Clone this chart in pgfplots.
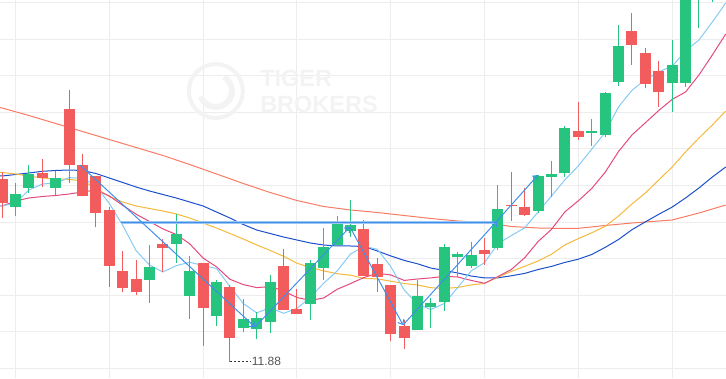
\documentclass[border=0pt]{standalone}
\usepackage{pgfplots}
\pgfplotsset{compat=1.18}
\usepackage{pgfplotstable}
\usepackage{fontspec}
\setmainfont{Liberation Sans}
\usetikzlibrary{arrows.meta}
\definecolor{cgreen}{HTML}{26C47E}
\definecolor{cred}{HTML}{F25C5C}
\definecolor{cma5}{HTML}{86CBF5}
\definecolor{cma10}{HTML}{E5497E}
\definecolor{cma20}{HTML}{F5B93B}
\definecolor{cma30}{HTML}{1B4FCB}
\definecolor{cma120}{HTML}{F97B64}
\definecolor{czig}{HTML}{3F8FEA}
\definecolor{chor}{HTML}{9CC6F4}
\definecolor{cgrid}{HTML}{EDEDED}
\definecolor{cwm}{HTML}{F3F3F3}
\definecolor{clab}{HTML}{555555}

% green (up) candles: k open high low close
\pgfplotstableread{
k o h l c
1 13.433 13.667 13.34 13.56
2 13.623 13.85 13.567 13.76
4 13.623 13.793 13.55 13.72
11 12.70 13.05 12.473 12.83
13 13.06 13.36 12.873 13.16
14 12.543 12.94 12.31 12.79
16 12.343 12.70 12.243 12.68
18 12.223 12.51 12.177 12.31
19 12.21 12.38 12.107 12.323
20 12.28 12.75 12.173 12.68
23 12.463 12.90 12.30 12.87
24 12.82 13.217 12.70 13.03
25 13.05 13.34 13.05 13.29
26 13.193 13.50 13.133 13.25
31 12.203 12.70 12.203 12.54
32 12.433 12.517 12.223 12.47
33 12.483 13.057 12.393 13.03
34 12.933 12.98 12.733 12.96
35 12.84 13.08 12.82 12.95
37 13.02 13.65 13.00 13.41
40 13.39 13.75 13.367 13.74
41 13.733 13.89 13.533 13.76
42 13.77 14.24 13.733 14.22
44 14.17 14.31 14.043 14.19
45 14.15 14.58 14.133 14.57
46 14.683 15.25 14.643 15.04
50 14.673 15.10 14.383 14.85
51 14.673 15.95 14.633 15.80
52 15.70 16.10 15.223 15.95
53 15.90 16.20 15.483 16.10
}\up

% red (down) candles: k open high low close
\pgfplotstableread{
k o h l c
0 13.71 13.783 13.317 13.473
3 13.767 13.91 13.633 13.723
5 14.41 14.60 13.673 13.853
6 13.85 13.96 13.54 13.543
7 13.74 13.74 13.227 13.373
8 13.40 13.433 12.633 12.843
9 12.79 12.99 12.583 12.623
10 12.71 12.90 12.55 12.583
12 13.06 13.107 12.783 13.023
15 12.87 12.87 12.043 12.42
17 12.63 12.65 11.88 12.123
21 12.84 13.01 12.40 12.40
22 12.41 12.61 12.36 12.36
27 13.21 13.30 12.74 12.74
28 12.86 12.92 12.583 12.73
29 12.65 12.65 12.093 12.163
30 12.24 12.30 12.013 12.123
36 13.00 13.12 12.85 12.96
38 13.45 13.78 13.29 13.44
39 13.43 13.62 13.34 13.35
43 14.19 14.48 14.103 14.133
47 15.19 15.37 14.853 15.053
48 14.97 15.02 14.623 14.663
49 14.79 14.89 14.433 14.583
}\down

% moving averages
\pgfplotstableread{
k ma5 ma10 ma20 ma30
-0.2 13.44 13.44 13.777 13.742
0 13.44 13.44 13.775 13.74
1 13.47 13.49 13.76 13.755
2 13.60 13.52 13.74 13.77
3 13.66 13.535 13.72 13.787
4 13.67 13.545 13.71 13.795
5 13.723 13.56 13.707 13.80
6 13.72 13.58 13.69 13.795
7 13.642 13.60 13.62 13.765
8 13.466 13.54 13.535 13.72
9 13.247 13.447 13.48 13.675
10 12.993 13.358 13.44 13.63
11 12.85 13.285 13.415 13.59
12 12.78 13.211 13.39 13.555
13 12.844 13.155 13.36 13.52
14 12.877 13.062 13.32 13.48
15 12.845 12.919 13.27 13.44
16 12.815 12.832 13.22 13.38
17 12.635 12.707 13.165 13.32
18 12.465 12.654 13.11 13.255
19 12.371 12.624 13.05 13.20
20 12.423 12.634 12.996 13.165
21 12.367 12.591 12.938 13.13
22 12.415 12.525 12.868 13.10
23 12.527 12.496 12.825 13.07
24 12.668 12.52 12.791 13.05
25 12.79 12.607 12.763 13.04
26 12.96 12.664 12.748 13.04
27 13.036 12.725 12.716 13.035
28 13.008 12.767 12.711 12.99
29 12.835 12.751 12.688 12.941
30 12.601 12.696 12.665 12.896
31 12.459 12.71 12.65 12.862
32 12.405 12.721 12.623 12.819
33 12.465 12.737 12.616 12.796
34 12.625 12.73 12.625 12.77
35 12.79 12.696 12.651 12.74
36 12.874 12.667 12.665 12.721
37 13.062 12.734 12.729 12.722
38 13.144 12.805 12.786 12.742
39 13.222 12.923 12.837 12.766
40 13.38 13.085 12.89 12.805
41 13.54 13.207 12.958 12.836
42 13.702 13.382 13.051 12.876
43 13.841 13.492 13.114 12.908
44 14.009 13.615 13.172 12.955
45 14.175 13.777 13.236 13.026
46 14.431 13.985 13.34 13.105
47 14.597 14.15 13.46 13.203
48 14.703 14.272 13.57 13.281
49 14.782 14.395 13.70 13.357
50 14.838 14.506 13.83 13.429
51 14.99 14.58 13.98 13.52
52 15.10 14.75 14.12 13.62
53 15.28 14.95 14.25 13.73
54 15.47 15.16 14.39 13.83
}\ma

\pgfplotstableread{
k v
-0.2 14.425
0 14.42
2 14.345
4 14.265
6 14.185
8 14.105
10 14.025
12 13.945
13 13.90
14 13.855
16 13.76
18 13.665
20 13.575
22 13.495
24 13.435
26 13.40
28 13.375
30 13.345
32 13.315
34 13.29
36 13.275
38 13.235
40 13.22
42 13.215
43 13.217
45 13.245
47 13.27
49 13.29
50 13.30
52 13.37
54 13.45
}\malong

\begin{document}
\begin{tikzpicture}
\begin{axis}[
  scale only axis, width=726pt, height=378pt,
  xmin=-0.157, xmax=54.02, ymin=11.72, ymax=15.5,
  axis line style={draw=none},
  xtick={1,8,15,22,29,36,43,50},
  ytick={11.818,12.184,12.549,12.915,13.280,13.646,14.011,14.377,14.742,15.108,15.473},
  xticklabels={}, yticklabels={},
  major tick length=0pt,
  grid=major,
  major grid style={draw=cgrid, line width=0.9pt},
]
% watermark
\draw[cwm, line width=4pt] (axis cs:15.95,14.59) circle[radius=27pt];
\draw[cwm, line width=6pt] ([shift={(60:16pt)}]axis cs:15.95,14.59) arc[start angle=60, end angle=-160, radius=16pt];
\node[anchor=base west, inner sep=0pt, text=cwm, font=\bfseries\fontsize{23.5}{24}\selectfont] at (axis cs:19.25,14.633) {TIGER};
\node[anchor=base west, inner sep=0pt, text=cwm, font=\bfseries\fontsize{23.5}{24}\selectfont] at (axis cs:19.25,14.373) {BROKERS};

% moving averages
\addplot[forget plot, cma120, line width=1pt] table[x=k, y=v] {\malong};
\addplot[forget plot, cma30, line width=1pt] table[x=k, y=ma30] {\ma};
\addplot[forget plot, cma20, line width=1pt] table[x=k, y=ma20] {\ma};
\addplot[forget plot, cma10, line width=1pt] table[x=k, y=ma10] {\ma};
\addplot[forget plot, cma5, line width=1pt] table[x=k, y=ma5] {\ma};

% wicks
\addplot[forget plot, draw=none, mark=none, error bars/.cd, y dir=plus, y explicit, error mark=none,
  error bar style={draw=cgreen, line width=1pt}]
  table[x=k, y=l, y error plus expr=\thisrow{h}-\thisrow{l}] {\up};
\addplot[forget plot, draw=none, mark=none, error bars/.cd, y dir=plus, y explicit, error mark=none,
  error bar style={draw=cred, line width=1pt}]
  table[x=k, y=l, y error plus expr=\thisrow{h}-\thisrow{l}] {\down};
% bodies
\addplot[forget plot, draw=none, mark=none, error bars/.cd, y dir=plus, y explicit, error mark=none,
  error bar style={draw=cgreen, line width=11pt}]
  table[x=k, y=o, y error plus expr=\thisrow{c}-\thisrow{o}] {\up};
\addplot[forget plot, draw=none, mark=none, error bars/.cd, y dir=plus, y explicit, error mark=none,
  error bar style={draw=cred, line width=11pt}]
  table[x=k, y=c, y error plus expr=\thisrow{o}-\thisrow{c}] {\down};

% drawn trend lines
\addplot[forget plot, chor, line width=2.6pt] coordinates {(8.87,13.275) (36.93,13.275)};
\addplot[forget plot, czig, line width=0.9pt] coordinates {(8.87,13.275) (36.93,13.275)};
\addplot[forget plot, czig, line width=1pt, -{Straight Barb[length=4pt,width=7pt]}] coordinates {(5.81,13.85) (18.87,12.23)};
\addplot[forget plot, czig, line width=1pt, -{Straight Barb[length=4pt,width=7pt]}] coordinates {(18.87,12.23) (25.96,13.23)};
\addplot[forget plot, czig, line width=1pt, -{Straight Barb[length=4pt,width=7pt]}] coordinates {(25.96,13.23) (29.92,12.25)};
\addplot[forget plot, czig, line width=1pt, -{Straight Barb[length=4pt,width=7pt]}] coordinates {(29.92,12.25) (36.93,13.29)};
\addplot[forget plot, czig, line width=1pt, -{Straight Barb[length=4pt,width=7pt]}] coordinates {(36.93,13.29) (39.99,13.75)};

% low marker
\addplot[forget plot, black!80, line width=0.8pt, dash pattern=on 2.5pt off 1.5pt] coordinates {(17.0,11.883) (18.5,11.883)};
\node[anchor=west, inner sep=0pt, text=clab, font=\fontsize{12}{14}\selectfont] at (axis cs:18.62,11.883) {11.88};
\end{axis}
\pgfresetboundingbox
\path[use as bounding box] (current axis.south west) rectangle (current axis.north east);
\end{tikzpicture}
\end{document}
